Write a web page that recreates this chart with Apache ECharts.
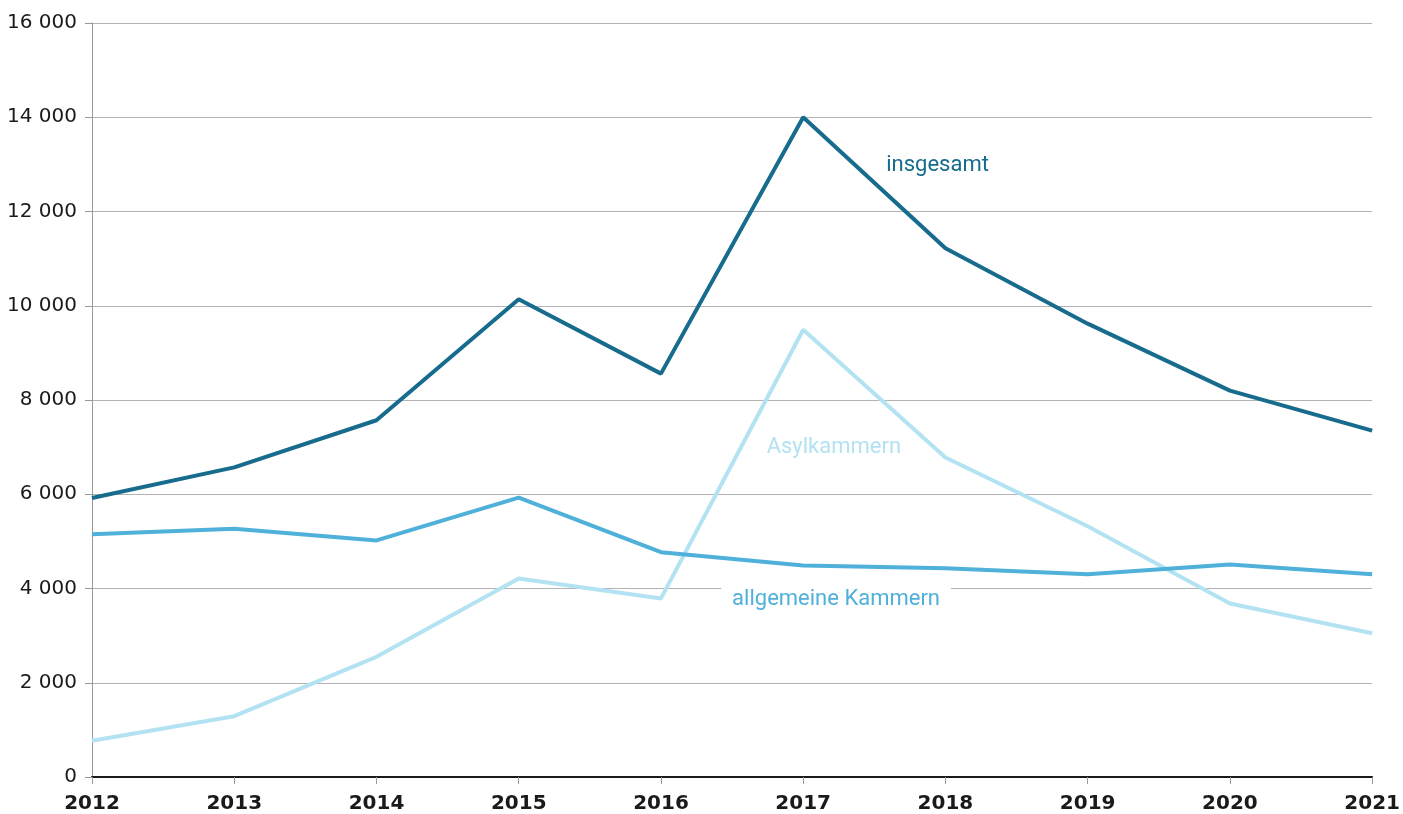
<!DOCTYPE html>
<html><head><meta charset="utf-8">
<script src="https://cdn.jsdelivr.net/npm/echarts@6/dist/echarts.min.js"></script>
<style>html,body{margin:0;padding:0;background:#fff}#c{width:1403px;height:814px}</style>
</head><body><div id="c"></div>
<script>
const years = ['2012','2013','2014','2015','2016','2017','2018','2019','2020','2021'];
const insgesamt = [5920, 6570, 7570, 10140, 8560, 14000, 11220, 9620, 8200, 7350];
const allgemeine = [5150, 5270, 5020, 5930, 4770, 4490, 4430, 4300, 4510, 4300];
const asyl = [770, 1290, 2550, 4210, 3790, 9490, 6780, 5320, 3680, 3050];
const yTicks = [0, 2000, 4000, 6000, 8000, 10000, 12000, 14000, 16000];

const chart = echarts.init(document.getElementById('c'));
const fmt = v => v >= 1000 ? Math.floor(v/1000) + ' ' + String(v%1000).padStart(3,'0') : String(v);
const L = 92, R = 1373, T = 23, B = 778;
const xAt = i => L + i * (R - L) / (years.length - 1);
const yAt = v => B - v / 16000 * (B - T);

chart.setOption({
  animation: false,
  grid: {left: L, right: 1403 - R, top: T, bottom: 814 - B},
  xAxis: {
    type: 'category', data: years, boundaryGap: false,
    axisLine: {lineStyle: {color: '#1a1a1a', width: 2}},
    axisTick: {show: true, length: 7, lineStyle: {color: '#999', width: 1}},
    axisLabel: {color: '#1a1a1a', fontSize: 20, fontWeight: 'bold', fontFamily: 'DejaVu Sans', margin: 17}
  },
  yAxis: {
    type: 'value', min: 0, max: 16000, interval: 2000,
    axisLine: {show: true, lineStyle: {color: '#999', width: 1}},
    axisTick: {show: true, length: 7, lineStyle: {color: '#999'}},
    splitLine: {lineStyle: {color: '#b3b3b3', width: 1}},
    axisLabel: {color: '#1a1a1a', fontSize: 20, fontFamily: 'DejaVu Sans', margin: 15, formatter: fmt}
  },
  series: [
    {name: 'Asylkammern', type: 'line', data: asyl, symbol: 'none', lineStyle: {color: '#b3e2f2', width: 4}, z: 2},
    {name: 'allgemeine Kammern', type: 'line', data: allgemeine, symbol: 'none', lineStyle: {color: '#4fb0d9', width: 4}, z: 3},
    {name: 'insgesamt', type: 'line', data: insgesamt, symbol: 'none', lineStyle: {color: '#176b8c', width: 4}, z: 4}
  ],
  graphic: [
    {type: 'text', x: xAt(5.58), y: yAt(12990), style: {text: 'insgesamt', fill: '#176b8c', font: '22px Roboto', textVerticalAlign: 'middle'}},
    {type: 'text', x: xAt(4.74), y: yAt(7000), style: {text: 'Asylkammern', fill: '#b3e2f2', font: '22px Roboto', textVerticalAlign: 'middle'}},
    {type: 'text', x: xAt(4.42), y: yAt(3780), z: 10, style: {text: 'allgemeine Kammern', fill: '#4fb0d9', font: '22px Roboto', textVerticalAlign: 'middle', backgroundColor: '#fff', padding: [2, 11, 2, 11]}}
  ]
});
</script></body></html>
